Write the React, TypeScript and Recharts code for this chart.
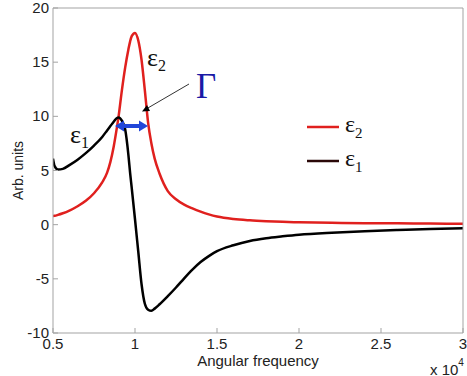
import React from "react";
import { LineChart, Line, XAxis, YAxis, Legend } from "recharts";

// angular frequency (x 10^4)
const freq = [
  0.5, 0.51, 0.53, 0.56, 0.6, 0.65, 0.7, 0.75, 0.8, 0.83, 0.85, 0.87, 0.89, 0.9,
  0.92, 0.94, 0.96, 0.97, 0.98, 1.0, 1.02, 1.04, 1.06, 1.08, 1.1, 1.12, 1.15, 1.2,
  1.25, 1.3, 1.35, 1.4, 1.45, 1.5, 1.6, 1.7, 1.8, 1.9, 2.0, 2.2, 2.4, 2.6, 2.8, 3.0,
];

// imaginary part (red)
const eps2 = [
  0.8, 0.82, 0.9, 1.05, 1.3, 1.7, 2.2, 2.9, 3.9, 4.8, 5.8, 7.2, 9.0, 10.0,
  12.4, 14.5, 16.2, 16.9, 17.4, 17.7, 17.0, 15.2, 12.4, 9.4, 7.5, 6.1, 4.7, 3.1,
  2.35, 1.85, 1.5, 1.2, 0.95, 0.75, 0.52, 0.4, 0.32, 0.26, 0.22, 0.17, 0.14, 0.12, 0.1, 0.08,
];

// real part (black)
const eps1 = [
  6.1, 5.4, 5.1, 5.15, 5.5, 6.0, 6.6, 7.3, 8.1, 8.7, 9.1, 9.5, 9.85, 9.9,
  9.6, 8.8, 6.4, 4.8, 3.4, 0.5, -2.5, -5.5, -7.3, -7.85, -7.95, -7.75, -7.35, -6.6,
  -5.8, -4.95, -4.15, -3.45, -2.9, -2.45, -1.9, -1.5, -1.25, -1.08, -0.93, -0.74, -0.6, -0.5, -0.41, -0.34,
];

const xTicks = [0.5, 1, 1.5, 2, 2.5, 3];
const yTicks = [-10, -5, 0, 5, 10, 15, 20];

const data = freq.map((f, i) => ({ f, e1: eps1[i], e2: eps2[i] }));

const AXIS = "#a3a3a3";
const TXT = "#222";
const RED = "#e0201e";
const SANS = "'Liberation Sans', Arial, sans-serif";
const SERIF = "'Liberation Serif', 'Times New Roman', serif";
const TICK_GAP = 4;
const TICK_LEN = 5;

function XTick(props: any) {
  const { x, y, payload } = props;
  const axisY = y - TICK_GAP;
  return (
    <g>
      <line x1={x} y1={axisY} x2={x} y2={axisY - TICK_LEN} stroke={AXIS} />
      <text x={x} y={y + 12} textAnchor="middle" fontSize={15} fill={TXT} fontFamily={SANS}>
        {payload.value}
      </text>
    </g>
  );
}

function YTick(props: any) {
  const { x, y, payload } = props;
  const axisX = x + TICK_GAP;
  return (
    <g>
      <line x1={axisX} y1={y} x2={axisX + TICK_LEN} y2={y} stroke={AXIS} />
      <text x={x} y={y + 5} textAnchor="end" fontSize={15} fill={TXT} fontFamily={SANS}>
        {payload.value}
      </text>
    </g>
  );
}

const legendOrder = [
  { key: "e2", sub: "2", color: RED },
  { key: "e1", sub: "1", color: "#2a0808" },
];

function LegendBox() {
  return (
    <svg width={80} height={70}>
      {legendOrder.map((it, i) => {
        const cy = 17 + i * 34;
        return (
          <g key={it.key}>
            <line x1={7} y1={cy} x2={39} y2={cy} stroke={it.color} strokeWidth={2.5} />
            <text x={45} y={cy + 5} fontSize={24} fontFamily={SERIF} fill="#111">
              ε<tspan fontSize={15} dy={6}>{it.sub}</tspan>
            </text>
          </g>
        );
      })}
    </svg>
  );
}

export default function App() {
  return (
    <div style={{ position: "absolute", left: 0, top: 0, width: 467, height: 376, background: "#fff" }}>
      <LineChart width={467} height={376} data={data} margin={{ top: 8, right: 4, left: 0, bottom: 0 }}>
        <XAxis
          dataKey="f"
          type="number"
          domain={[0.5, 3]}
          ticks={xTicks}
          interval={0}
          height={43}
          tickLine={false}
          tickSize={0}
          tickMargin={TICK_GAP}
          tick={<XTick />}
          stroke={AXIS}
          allowDataOverflow
          label={{ value: "Angular frequency", position: "insideBottom", offset: 10, fontSize: 15, fill: TXT, fontFamily: SANS }}
        />
        <XAxis
          xAxisId="top"
          dataKey="f"
          type="number"
          orientation="top"
          mirror
          domain={[0.5, 3]}
          ticks={xTicks}
          interval={0}
          tick={false}
          tickSize={TICK_LEN}
          stroke={AXIS}
          allowDataOverflow
        />
        <YAxis
          type="number"
          domain={[-10, 20]}
          ticks={yTicks}
          interval={0}
          width={53}
          tickLine={false}
          tickSize={0}
          tickMargin={TICK_GAP}
          tick={<YTick />}
          stroke={AXIS}
          allowDataOverflow
          label={{ value: "Arb. units", angle: -90, position: "insideLeft", offset: 18, fontSize: 14, fill: TXT, fontFamily: SANS, style: { textAnchor: "middle" } }}
        />
        <YAxis
          yAxisId="right"
          type="number"
          orientation="right"
          mirror
          domain={[-10, 20]}
          ticks={yTicks}
          interval={0}
          tick={false}
          tickSize={TICK_LEN}
          stroke={AXIS}
          allowDataOverflow
        />
        <Legend
          layout="horizontal"
          verticalAlign="middle"
          align="center"
          content={<LegendBox />}
          wrapperStyle={{ position: "absolute", left: 300, top: 110, width: 80, height: 70 }}
        />
        <Line dataKey="e2" name="ε2" type="monotone" stroke={RED} strokeWidth={2.5} dot={false} isAnimationActive={false} />
        <Line dataKey="e1" name="ε1" type="monotone" stroke="#000" strokeWidth={2.5} dot={false} isAnimationActive={false} />
      </LineChart>
      <svg
        width={467}
        height={376}
        style={{ position: "absolute", left: 0, top: 0, pointerEvents: "none" }}
      >
        <text x={70} y={143} fontSize={26} fontFamily={SERIF} fill="#111">
          ε<tspan fontSize={16} dy={5}>1</tspan>
        </text>
        <text x={147} y={66} fontSize={26} fontFamily={SERIF} fill="#111">
          ε<tspan fontSize={16} dy={5}>2</tspan>
        </text>
        <text x={196} y={98} fontSize={35} fontFamily={SERIF} fill="#1a1aa6">
          Γ
        </text>
        <line x1={189} y1={84} x2={147} y2={108.5} stroke="#333" strokeWidth={1} />
        <polygon points="142,111.5 147,105 150,111" fill="#000" />
        <line x1={122} y1={126} x2={141} y2={126} stroke="#2146d9" strokeWidth={4} />
        <polygon points="115,126 124,120.5 124,131.5" fill="#2146d9" />
        <polygon points="148,126 139,120.5 139,131.5" fill="#2146d9" />
        <text x={430} y={375} fontSize={15} fontFamily={SANS} fill={TXT}>
          x 10<tspan fontSize={10} dy={-9}>4</tspan>
        </text>
      </svg>
    </div>
  );
}
